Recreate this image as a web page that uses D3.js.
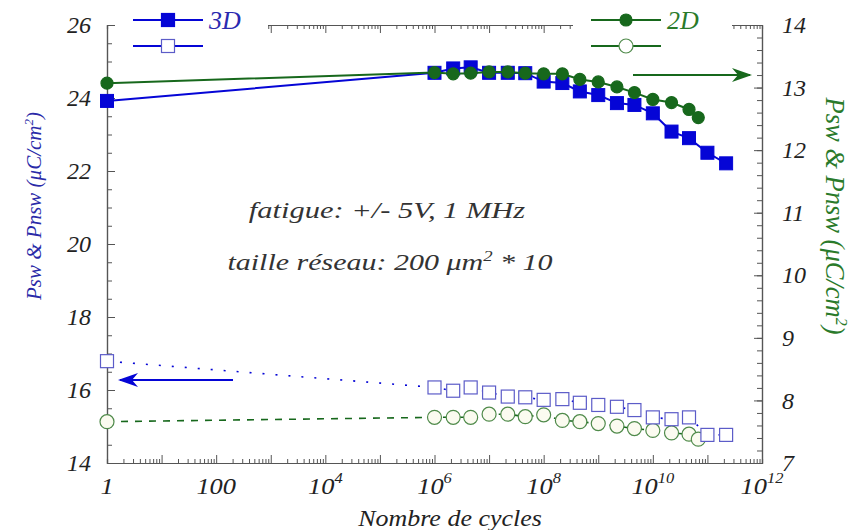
<!DOCTYPE html>
<html>
<head>
<meta charset="utf-8">
<script src="https://cdn.jsdelivr.net/npm/d3@7"></script>
<style>
  body { margin: 0; background: #fff; }
  svg { display: block; }
  svg text { font-family: 'Liberation Serif', 'Times New Roman', Times, serif; font-style: italic; }
</style>
</head>
<body>
<svg id="chart" width="859" height="530"></svg>
<script>
// data
const cycles3D = [1, 1e6, 2.2e6, 4.6e6, 1e7, 2.2e7, 4.6e7, 1e8, 2.2e8, 4.6e8, 1e9, 2.2e9, 4.6e9, 1e10, 2.2e10, 4.6e10, 1e11, 2.2e11]
const psw3D = [23.92, 24.69, 24.81, 24.84, 24.69, 24.69, 24.68, 24.45, 24.41, 24.18, 24.08, 23.86, 23.81, 23.58, 23.08, 22.9, 22.5, 22.21]
const pnsw3D = [16.79, 16.07, 15.98, 16.07, 15.93, 15.82, 15.8, 15.73, 15.75, 15.65, 15.59, 15.54, 15.45, 15.25, 15.2, 15.25, 14.77, 14.77]

const cycles2D = [1, 1e6, 2.2e6, 4.6e6, 1e7, 2.2e7, 4.6e7, 1e8, 2.2e8, 4.6e8, 1e9, 2.2e9, 4.6e9, 1e10, 2.2e10, 4.6e10, 6.8e10]
const psw2D = [13.07, 13.24, 13.22, 13.23, 13.25, 13.25, 13.23, 13.22, 13.22, 13.13, 13.09, 13.01, 12.92, 12.81, 12.76, 12.65, 12.52]
const pnsw2D = [7.66, 7.73, 7.73, 7.73, 7.78, 7.78, 7.74, 7.77, 7.68, 7.66, 7.63, 7.59, 7.55, 7.52, 7.48, 7.46, 7.38]

const xTickValues = [1, 1e2, 1e4, 1e6, 1e8, 1e10, 1e12]
const xTickLabels = [['1', ''], ['100', ''], ['10', '4'], ['10', '6'], ['10', '8'], ['10', '10'], ['10', '12']]
const leftTickValues = [14, 16, 18, 20, 22, 24, 26]
const rightTickValues = [7, 8, 9, 10, 11, 12, 13, 14]

const width = 859
const height = 530
const margin = { top: 25, right: 97, bottom: 67, left: 107 }
const innerW = width - margin.left - margin.right
const innerH = height - margin.top - margin.bottom

const blue = '#0505d6'
const blueLight = '#5c5cc8'
const green = '#17681c'
const greenLight = '#4f8a4a'
const axisColor = '#555'

const svg = d3.select('#chart')
const g = svg.append('g').attr('transform', `translate(${margin.left},${margin.top})`)

// scales
const x = d3.scaleLog().domain([1, 1e12]).range([0, innerW])
const yLeft = d3.scaleLinear().domain([14, 26]).range([innerH, 0])
const yRight = d3.scaleLinear().domain([7, 14]).range([innerH, 0])

// minor tick positions
const xMinor = []
for (let e = 0; e < 12; e++) for (let m = 2; m <= 9; m++) xMinor.push(m * 10 ** e)
const xMajor = d3.range(0, 13).map((e) => 10 ** e)

function styleAxis(sel) {
  sel.attr('font-family', null)
  sel.selectAll('path, line').attr('stroke', axisColor).attr('stroke-width', 1)
  sel.select('.domain').attr('stroke-width', 1.2)
}
function styleLabels(sel) {
  sel.selectAll('text').attr('font-size', 24).attr('fill', '#222')
}

// bottom axis
g.append('g')
  .attr('transform', `translate(0,${innerH})`)
  .call(d3.axisBottom(x).tickValues(xMinor).tickSize(-4).tickFormat(''))
  .call(styleAxis)
g.append('g')
  .attr('transform', `translate(0,${innerH})`)
  .call(d3.axisBottom(x).tickValues(xMajor).tickSize(-8).tickSizeOuter(0).tickFormat(''))
  .call(styleAxis)

// x tick labels with superscripts (slightly widened like the scan)
const xLabels = g.append('g').attr('transform', `translate(0,${innerH})`)
xTickValues.forEach((v, i) => {
  const t = xLabels.append('text')
    .attr('transform', `translate(${x(v)},31) scale(1.1,1)`)
    .attr('text-anchor', 'middle')
    .attr('font-size', 24)
    .attr('fill', '#222')
  t.append('tspan').text(xTickLabels[i][0])
  if (xTickLabels[i][1]) {
    t.append('tspan').attr('dy', -11).attr('font-size', 15).text(xTickLabels[i][1])
  }
})

// top axis
g.append('g')
  .call(d3.axisTop(x).tickValues(xMinor).tickSize(-4).tickFormat(''))
  .call(styleAxis)
g.append('g')
  .call(d3.axisTop(x).tickValues(xMajor).tickSize(-8).tickSizeOuter(0).tickFormat(''))
  .call(styleAxis)

// left axis
g.append('g')
  .call(d3.axisLeft(yLeft).tickValues(d3.range(14, 26.01, 0.5)).tickSize(-5).tickFormat(''))
  .call(styleAxis)
g.append('g')
  .call(d3.axisLeft(yLeft).tickValues(leftTickValues).tickSize(-8).tickSizeOuter(0).tickPadding(16).tickFormat(d3.format('d')))
  .call(styleAxis)
  .call(styleLabels)

// right axis
g.append('g')
  .attr('transform', `translate(${innerW},0)`)
  .call(d3.axisRight(yRight).tickValues(d3.range(7, 14.01, 0.2)).tickSize(-5).tickFormat(''))
  .call(styleAxis)
g.append('g')
  .attr('transform', `translate(${innerW},0)`)
  .call(d3.axisRight(yRight).tickValues(rightTickValues).tickSize(-8).tickSizeOuter(0).tickPadding(20).tickFormat(d3.format('d')))
  .call(styleAxis)
  .call(styleLabels)

// axis titles
svg.append('text')
  .attr('transform', `translate(41,206) rotate(-90)`)
  .attr('text-anchor', 'middle')
  .attr('font-size', 21)
  .attr('fill', '#2a2aa8')
  .call((t) => {
    t.append('tspan').text('Psw & Pnsw (μC/cm')
    t.append('tspan').attr('dy', -8).attr('font-size', 13).text('2')
    t.append('tspan').attr('dy', 8).text(')')
  })
svg.append('text')
  .attr('transform', `translate(826,216) rotate(90)`)
  .attr('text-anchor', 'middle')
  .attr('font-size', 26.5)
  .attr('fill', '#2a7a2a')
  .call((t) => {
    t.append('tspan').text('Psw & Pnsw (μC/cm')
    t.append('tspan').attr('dy', -10).attr('font-size', 16).text('2')
    t.append('tspan').attr('dy', 10).text(')')
  })
svg.append('text')
  .attr('transform', 'translate(450,526) scale(1.13,1)')
  .attr('text-anchor', 'middle')
  .attr('font-size', 23)
  .attr('fill', '#222')
  .text('Nombre de cycles')

// annotations (horizontally stretched like the scan)
const note = svg.append('g').attr('font-size', 24).attr('fill', '#333')
note.append('text').attr('transform', 'translate(387,218) scale(1.27,1)').attr('text-anchor', 'middle')
  .text('fatigue: +/- 5V, 1 MHz')
note.append('text').attr('transform', 'translate(390,270) scale(1.25,1)').attr('text-anchor', 'middle')
  .call((t) => {
    t.append('tspan').text('taille réseau: 200 μm')
    t.append('tspan').attr('dy', -9).attr('font-size', 15).text('2')
    t.append('tspan').attr('dy', 9).text(' * 10')
  })

// series
const line = d3.line().x((d) => x(d[0])).y((d) => d[1])
function pts(xs, ys, scale) {
  return xs.map((v, i) => [v, scale(ys[i])])
}

const series = [
  { xs: cycles2D, ys: pnsw2D, scale: yRight, color: greenLight, dash: '7,7', shape: 'circle', filled: false, lineColor: green },
  { xs: cycles3D, ys: pnsw3D, scale: yLeft, color: blueLight, dash: '2,11', shape: 'square', filled: false, lineColor: blue },
  { xs: cycles3D, ys: psw3D, scale: yLeft, color: blue, dash: null, shape: 'square', filled: true },
  { xs: cycles2D, ys: psw2D, scale: yRight, color: green, dash: null, shape: 'circle', filled: true },
]

series.forEach((s) => {
  const data = pts(s.xs, s.ys, s.scale)
  g.append('path')
    .attr('d', line(data))
    .attr('fill', 'none')
    .attr('stroke', s.lineColor || s.color)
    .attr('stroke-width', s.filled ? 2 : 1.6)
    .attr('stroke-dasharray', s.dash)
  const marks = g.append('g')
  if (s.shape === 'square') {
    marks.selectAll('rect').data(data).join('rect')
      .attr('x', (d) => x(d[0]) - 6.5)
      .attr('y', (d) => d[1] - 6.5)
      .attr('width', 13).attr('height', 13)
      .attr('fill', s.filled ? s.color : '#fff')
      .attr('stroke', s.color)
      .attr('stroke-width', s.filled ? 1 : 1.2)
  } else {
    marks.selectAll('circle').data(data).join('circle')
      .attr('cx', (d) => x(d[0]))
      .attr('cy', (d) => d[1])
      .attr('r', s.filled ? 6 : 7)
      .attr('fill', s.filled ? s.color : '#fbfbf0')
      .attr('stroke', s.color)
      .attr('stroke-width', 1.2)
  }
})

// arrows
const defs = svg.append('defs')
function arrowHead(id, color) {
  defs.append('marker')
    .attr('id', id).attr('viewBox', '0 0 20 14').attr('refX', 18).attr('refY', 7)
    .attr('markerWidth', 20).attr('markerHeight', 14).attr('markerUnits', 'userSpaceOnUse')
    .attr('orient', 'auto')
    .append('path').attr('d', 'M0,0 L20,7 L0,14 L6,7 Z').attr('fill', color)
}
arrowHead('headBlue', blue)
arrowHead('headGreen', green)
svg.append('line')
  .attr('x1', 233).attr('y1', 380).attr('x2', 120).attr('y2', 380)
  .attr('stroke', blue).attr('stroke-width', 2).attr('marker-end', 'url(#headBlue)')
svg.append('line')
  .attr('x1', 633).attr('y1', 75).attr('x2', 750).attr('y2', 75)
  .attr('stroke', green).attr('stroke-width', 2).attr('marker-end', 'url(#headGreen)')

// legends (white boxes over the top axis)
function legendBox(x0, x1, color, shape, label) {
  const lg = svg.append('g')
  lg.append('rect').attr('x', x0).attr('y', 0).attr('width', x1 - x0).attr('height', 56).attr('fill', '#fff')
  const lx0 = x0 + 18
  const lx1 = lx0 + 70
  const mid = (lx0 + lx1) / 2
  ;[{ y: 20, filled: true }, { y: 46, filled: false }].forEach((r) => {
    lg.append('line').attr('x1', lx0).attr('x2', lx1).attr('y1', r.y).attr('y2', r.y)
      .attr('stroke', color).attr('stroke-width', 2)
    if (shape === 'square') {
      lg.append('rect').attr('x', mid - 6.5).attr('y', r.y - 6.5).attr('width', 13).attr('height', 13)
        .attr('fill', r.filled ? color : '#fff').attr('stroke', r.filled ? color : blueLight).attr('stroke-width', 1.2)
    } else {
      lg.append('circle').attr('cx', mid).attr('cy', r.y).attr('r', r.filled ? 6 : 7)
        .attr('fill', r.filled ? color : '#fff').attr('stroke', r.filled ? color : greenLight).attr('stroke-width', 1.2)
    }
  })
  lg.append('text').attr('x', lx1 + 6).attr('y', 29)
    .attr('font-size', 26)
    .attr('fill', shape === 'square' ? '#2a2ab0' : '#2a7a2a')
    .text(label)
}
legendBox(115, 268, blue, 'square', '3D')
legendBox(573, 732, green, 'circle', '2D')
</script>
</body>
</html>
